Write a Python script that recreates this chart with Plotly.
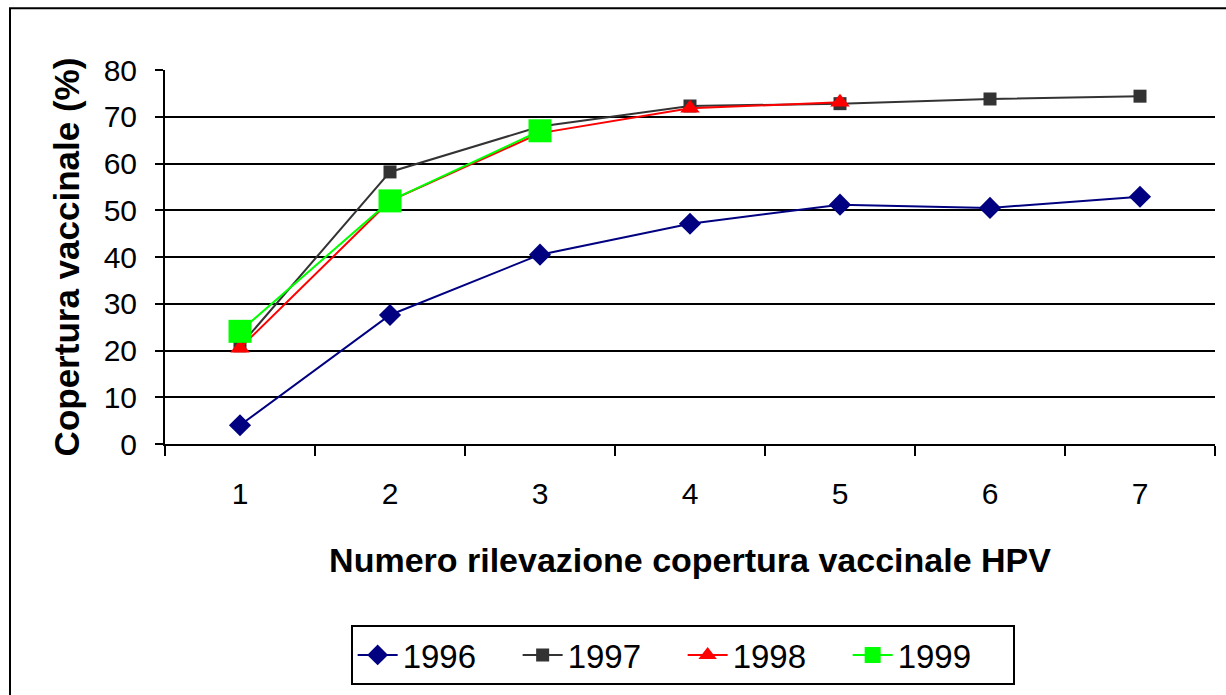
import plotly.graph_objects as go

categories = ["1", "2", "3", "4", "5", "6", "7"]
s1996 = [4.0, 27.6, 40.5, 47.1, 51.2, 50.5, 52.9]
s1997 = [21.0, 58.2, 67.9, 72.3, 72.8, 73.8, 74.4]
s1998 = [20.5, 52.0, 66.5, 71.8, 73.1]
s1999 = [24.1, 52.0, 67.0]
y_ticks = [0, 10, 20, 30, 40, 50, 60, 70, 80]

FONT = "Liberation Sans, Arial, sans-serif"

fig = go.Figure()
fig.add_trace(go.Scatter(x=categories, y=s1996, name="1996", mode="lines+markers",
                         line=dict(color="#000080", width=2),
                         marker=dict(symbol="diamond", size=17, color="#000080")))
fig.add_trace(go.Scatter(x=categories, y=s1997, name="1997", mode="lines+markers",
                         line=dict(color="#333333", width=2),
                         marker=dict(symbol="square", size=13, color="#333333")))
fig.add_trace(go.Scatter(x=categories[:len(s1998)], y=s1998, name="1998", mode="lines+markers",
                         line=dict(color="#FF0000", width=2),
                         marker=dict(symbol="triangle-up", size=17, color="#FF0000")))
fig.add_trace(go.Scatter(x=categories[:len(s1999)], y=s1999, name="1999", mode="lines+markers",
                         line=dict(color="#00FF00", width=2),
                         marker=dict(symbol="square", size=23, color="#00FF00")))

ml, mr, mt, mb = 165, 11, 70, 250
W, H = 1226, 695
pw, ph = W - ml - mr, H - mt - mb

def px(x):
    return (x - ml) / pw

def py(y):
    return (H - mb - y) / ph

fig.update_layout(
    width=W, height=H,
    margin=dict(l=ml, r=mr, t=mt, b=mb),
    paper_bgcolor="white", plot_bgcolor="white",
    font=dict(family=FONT, color="black", size=30),
    xaxis=dict(type="category", tickson="boundaries", ticks="outside", ticklen=10,
               tickwidth=2, tickcolor="black", showline=True, linecolor="black",
               linewidth=2, showgrid=False, tickfont=dict(size=30),
               ticklabelstandoff=22,
               title=dict(text="<b>Numero rilevazione copertura vaccinale HPV</b>",
                          font=dict(size=34), standoff=39),
               range=[-0.5, 6.5]),
    yaxis=dict(range=[0, 80], tickvals=y_ticks, ticks="outside", ticklen=8,
               tickwidth=2, tickcolor="black", showline=True, linecolor="black",
               linewidth=2, showgrid=True, gridcolor="black", gridwidth=2,
               zeroline=False, tickfont=dict(size=30), ticklabelstandoff=12,
               title=dict(text="<b>Copertura vaccinale (%)</b>", font=dict(size=35),
                          standoff=13)),
    legend=dict(orientation="h", x=0.493, xanchor="center", y=py(625), yanchor="top",
                bordercolor="black", borderwidth=2, font=dict(size=33),
                itemwidth=40, entrywidth=110, tracegroupgap=0),
    showlegend=True,
    shapes=[dict(type="rect", xref="paper", yref="paper",
                 x0=px(10), x1=px(1240), y0=py(720), y1=py(8),
                 line=dict(color="black", width=2), layer="below")],
)

fig.write_html("out.html", config={"displayModeBar": False},
               post_script="document.body.style.margin='0';document.body.style.padding='0';")
